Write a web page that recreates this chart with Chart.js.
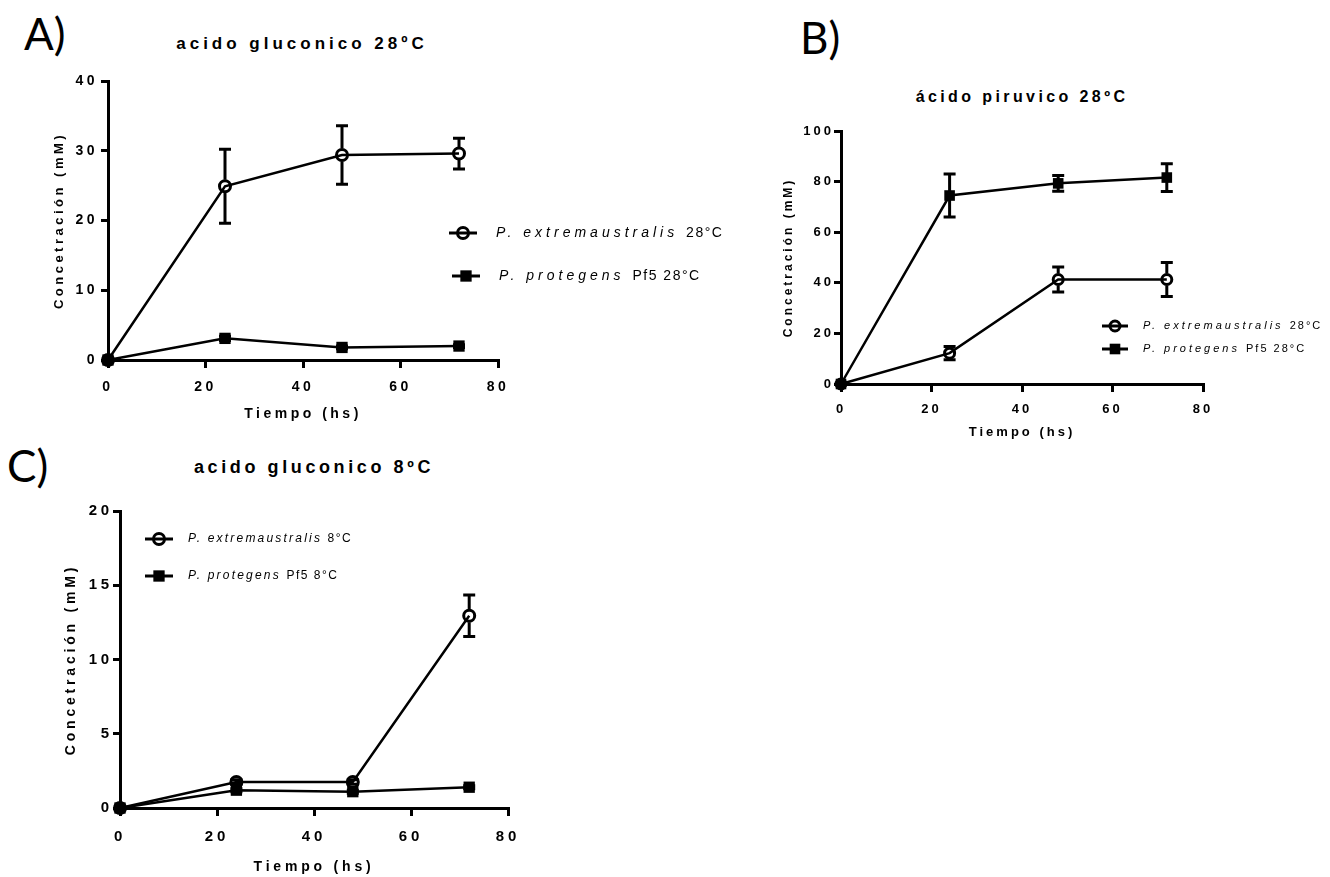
<!DOCTYPE html>
<html>
<head>
<meta charset="utf-8">
<script src="https://cdn.jsdelivr.net/npm/chart.js@4.4.1/dist/chart.umd.min.js"></script>
<style>
  body { margin: 0; background: #fff; }
  #page { position: relative; width: 1330px; height: 877px; overflow: hidden; background: #fff; }
  canvas { position: absolute; }
  .panel { position: absolute; font-family: Lato, 'Open Sans', sans-serif; font-size: 44px; line-height: 1; color: #000; }
  .title { position: absolute; font-family: 'Liberation Sans', Arial, sans-serif; font-weight: bold; color: #000;
           white-space: nowrap; transform: translate(-50%, -50%); line-height: 1; }
</style>
</head>
<body>
<div id="page">
  <div class="panel" style="left:24px;top:11px;">A)</div>
  <div class="panel" style="left:800px;top:15px;">B)</div>
  <div class="panel" style="left:7px;top:443px;">C)</div>

  <div class="title" style="left:302px;top:43px;font-size:17px;letter-spacing:4px;">acido gluconico 28ºC</div>
  <div class="title" style="left:1022px;top:97px;font-size:16px;letter-spacing:3.4px;">ácido piruvico 28ºC</div>
  <div class="title" style="left:314px;top:467px;font-size:18px;letter-spacing:3.6px;">acido gluconico 8ºC</div>

  <canvas id="chartA" width="740" height="380" style="left:0px;top:60px;"></canvas>
  <canvas id="chartB" width="560" height="360" style="left:770px;top:100px;"></canvas>
  <canvas id="chartC" width="620" height="387" style="left:0px;top:490px;"></canvas>
</div>

<script>
// Sampling times (hours)
const timeHours = [0, 24, 48, 72];
const timeTicks = [0, 20, 40, 60, 80];

// Series names (italic part + plain part)
const nameItalic = ['P. extremaustralis', 'P. protegens'];
const namePlainA = ['28°C', 'Pf5 28°C'];
const namePlainB = ['28°C', 'Pf5 28°C'];
const namePlainC = ['8°C', 'Pf5 8°C'];

// A) acido gluconico 28ºC
const gluc28Extrem = [0, 24.9, 29.4, 29.6];
const gluc28ExtremErr = [0, 5.3, 4.2, 2.2];
const gluc28Protegens = [0, 3.1, 1.8, 2.0];
const gluc28ProtegensErr = [0, 0.3, 0.2, 0.2];
const yTicksA = [0, 10, 20, 30, 40];

// B) ácido piruvico 28ºC
const piru28Extrem = [0, 12.2, 41.3, 41.3];
const piru28ExtremErr = [0, 2.6, 4.9, 6.7];
const piru28Protegens = [0, 74.5, 79.3, 81.6];
const piru28ProtegensErr = [0, 8.5, 3.1, 5.5];
const yTicksB = [0, 20, 40, 60, 80, 100];

// C) acido gluconico 8ºC
const gluc8Extrem = [0, 1.75, 1.75, 12.95];
const gluc8ExtremErr = [0, 0.15, 0.15, 1.4];
const gluc8Protegens = [0, 1.2, 1.1, 1.4];
const gluc8ProtegensErr = [0, 0.1, 0.1, 0.1];
const yTicksC = [0, 5, 10, 15, 20];

const FONT = "'Liberation Sans', Arial, sans-serif";

// Letter spacing for all text Chart.js draws on a canvas
const spacingPlugin = {
  id: 'spacing',
  beforeUpdate(chart, args, opts) { chart.ctx.letterSpacing = opts.value + 'px'; },
  beforeDraw(chart, args, opts) { chart.ctx.letterSpacing = opts.value + 'px'; }
};

// Vertical error bars (mean +/- error), drawn under the markers
const errorBarPlugin = {
  id: 'errorBars',
  beforeDatasetsDraw(chart, args, opts) {
    const { ctx } = chart;
    const x = chart.scales.x, y = chart.scales.y;
    ctx.save();
    ctx.strokeStyle = '#000';
    ctx.lineWidth = opts.width;
    chart.data.datasets.forEach(ds => {
      if (!ds.errors) return;
      const gap = ds.pointStyle === 'circle' ? ds.pointRadius + 1 : 0;
      ds.data.forEach((pt, j) => {
        const e = ds.errors[j];
        if (!e) return;
        const px = x.getPixelForValue(pt.x);
        const pc = y.getPixelForValue(pt.y);
        const pTop = y.getPixelForValue(pt.y + e);
        const pBot = y.getPixelForValue(pt.y - e);
        ctx.beginPath();
        if (pc - gap > pTop) { ctx.moveTo(px, pTop); ctx.lineTo(px, pc - gap); }
        if (pc + gap < pBot) { ctx.moveTo(px, pc + gap); ctx.lineTo(px, pBot); }
        ctx.moveTo(px - opts.cap, pTop); ctx.lineTo(px + opts.cap, pTop);
        ctx.moveTo(px - opts.cap, pBot); ctx.lineTo(px + opts.cap, pBot);
        ctx.stroke();
      });
    });
    ctx.restore();
  }
};

// Legend drawn at a fixed spot inside each panel
const panelLegendPlugin = {
  id: 'panelLegend',
  afterDraw(chart, args, opts) {
    const { ctx } = chart;
    ctx.save();
    ctx.letterSpacing = opts.spacing + 'px';
    ctx.textBaseline = 'middle';
    ctx.fillStyle = '#000';
    ctx.strokeStyle = '#000';
    chart.data.datasets.forEach((ds, i) => {
      const cx = opts.x[i], cy = opts.y[i];
      ctx.lineWidth = 3;
      ctx.beginPath();
      ctx.moveTo(cx - opts.half, cy);
      ctx.lineTo(cx + opts.half, cy);
      ctx.stroke();
      if (ds.pointStyle === 'circle') {
        ctx.lineWidth = ds.pointBorderWidth;
        ctx.beginPath();
        ctx.arc(cx, cy, ds.pointRadius, 0, Math.PI * 2);
        ctx.stroke();
      } else {
        const s = ds.pointRadius * Math.SQRT1_2;
        ctx.fillRect(cx - s, cy - s, 2 * s, 2 * s);
      }
      let tx = cx + opts.textOffset;
      ctx.font = 'italic ' + opts.size + 'px ' + FONT;
      ctx.fillText(ds.italic, tx, cy);
      tx += ctx.measureText(ds.italic + ' ').width;
      ctx.letterSpacing = opts.plainSpacing + 'px';
      ctx.font = opts.size + 'px ' + FONT;
      ctx.fillText(ds.plain, tx, cy);
      ctx.letterSpacing = opts.spacing + 'px';
    });
    ctx.restore();
  }
};

const makeDatasets = (extrem, extremErr, protegens, protegensErr, plain, circleR, squareR) => [
  {
    label: nameItalic[0] + ' ' + plain[0],
    italic: nameItalic[0],
    plain: plain[0],
    data: timeHours.map((t, j) => ({ x: t, y: extrem[j] })),
    errors: extremErr,
    borderColor: '#000',
    borderWidth: 2.5,
    pointStyle: 'circle',
    pointRadius: circleR,
    pointBorderWidth: 3,
    pointBorderColor: '#000',
    pointBackgroundColor: 'rgba(0,0,0,0)',
    tension: 0,
    clip: false
  },
  {
    label: nameItalic[1] + ' ' + plain[1],
    italic: nameItalic[1],
    plain: plain[1],
    data: timeHours.map((t, j) => ({ x: t, y: protegens[j] })),
    errors: protegensErr,
    borderColor: '#000',
    borderWidth: 2.5,
    pointStyle: 'rect',
    pointRadius: squareR,
    pointBorderWidth: 0,
    pointBorderColor: '#000',
    pointBackgroundColor: '#000',
    tension: 0,
    clip: false
  }
];

const makeChart = (id, datasets, yTicks, p) => {
  const tickFont = { family: FONT, size: p.tickSize, weight: 'bold' };
  return new Chart(document.getElementById(id), {
    type: 'line',
    data: { datasets },
    plugins: [spacingPlugin, errorBarPlugin, panelLegendPlugin],
    options: {
      responsive: false,
      animation: false,
      layout: { padding: p.padding },
      plugins: {
        legend: { display: false },
        tooltip: { enabled: false },
        title: { display: false },
        spacing: { value: p.spacing },
        errorBars: { width: 3, cap: 6 },
        panelLegend: p.legend
      },
      scales: {
        x: {
          type: 'linear',
          min: timeTicks[0],
          max: timeTicks[timeTicks.length - 1],
          afterBuildTicks: s => { s.ticks = timeTicks.map(v => ({ value: v })); },
          afterFit: s => { s.height = p.xHeight; },
          ticks: { color: '#000', font: tickFont, padding: p.xTickPad, autoSkip: false, maxRotation: 0 },
          grid: { drawOnChartArea: false, tickLength: 8, lineWidth: 3, tickWidth: 3, tickColor: '#000', color: '#000' },
          border: { color: '#000', width: 3 },
          title: {
            display: true, text: 'Tiempo (hs)', color: '#000',
            font: { family: FONT, size: p.xTitleSize, weight: 'bold' },
            padding: { top: 0, bottom: p.xTitlePad }
          }
        },
        y: {
          type: 'linear',
          min: yTicks[0],
          max: yTicks[yTicks.length - 1],
          afterBuildTicks: s => { s.ticks = yTicks.map(v => ({ value: v })); },
          afterFit: s => { s.width = p.yWidth; },
          ticks: { color: '#000', font: tickFont, padding: p.yTickPad, autoSkip: false },
          grid: { drawOnChartArea: false, tickLength: 7, lineWidth: 3, tickWidth: 3, tickColor: '#000', color: '#000' },
          border: { color: '#000', width: 3 },
          title: {
            display: true, text: 'Concetración (mM)', color: '#000',
            font: { family: FONT, size: p.yTitleSize, weight: 'bold' },
            padding: { top: p.yTitlePad, bottom: 0 }
          }
        }
      }
    }
  });
};

// A) canvas at (0,60): plot area 108..498 x 81..360
makeChart('chartA',
  makeDatasets(gluc28Extrem, gluc28ExtremErr, gluc28Protegens, gluc28ProtegensErr, namePlainA, 5.5, 8),
  yTicksA, {
    padding: { left: 40, top: 21, right: 242, bottom: 10 },
    yWidth: 68, xHeight: 70, spacing: 3.5,
    tickSize: 14, xTickPad: 11, yTickPad: 3,
    xTitleSize: 14, xTitlePad: 7, yTitleSize: 13, yTitlePad: 12,
    legend: { x: [463, 466], y: [173, 216], half: 14, textOffset: 33, size: 14, spacing: 4, plainSpacing: 1.5 }
  });

// B) canvas at (770,100): plot area 841..1203 x 131..384
makeChart('chartB',
  makeDatasets(piru28Extrem, piru28ExtremErr, piru28Protegens, piru28ProtegensErr, namePlainB, 5, 7.5),
  yTicksB, {
    padding: { left: 8, top: 31, right: 127, bottom: 10 },
    yWidth: 63, xHeight: 66, spacing: 3,
    tickSize: 13, xTickPad: 10, yTickPad: 0,
    xTitleSize: 13, xTitlePad: 10, yTitleSize: 12, yTitlePad: 3,
    legend: { x: [345, 345], y: [226, 249], half: 13, textOffset: 28, size: 11, spacing: 3, plainSpacing: 2 }
  });

// C) canvas at (0,490): plot area 120..508 x 511..808
makeChart('chartC',
  makeDatasets(gluc8Extrem, gluc8ExtremErr, gluc8Protegens, gluc8ProtegensErr, namePlainC, 5.5, 8),
  yTicksC, {
    padding: { left: 50, top: 21, right: 112, bottom: 0 },
    yWidth: 70, xHeight: 69, spacing: 3.8,
    tickSize: 15, xTickPad: 12, yTickPad: 0,
    xTitleSize: 14, xTitlePad: 1, yTitleSize: 14, yTitlePad: 13,
    legend: { x: [159, 159], y: [49, 86], half: 14, textOffset: 29, size: 12, spacing: 2.2, plainSpacing: 1.5 }
  });
</script>
</body>
</html>
